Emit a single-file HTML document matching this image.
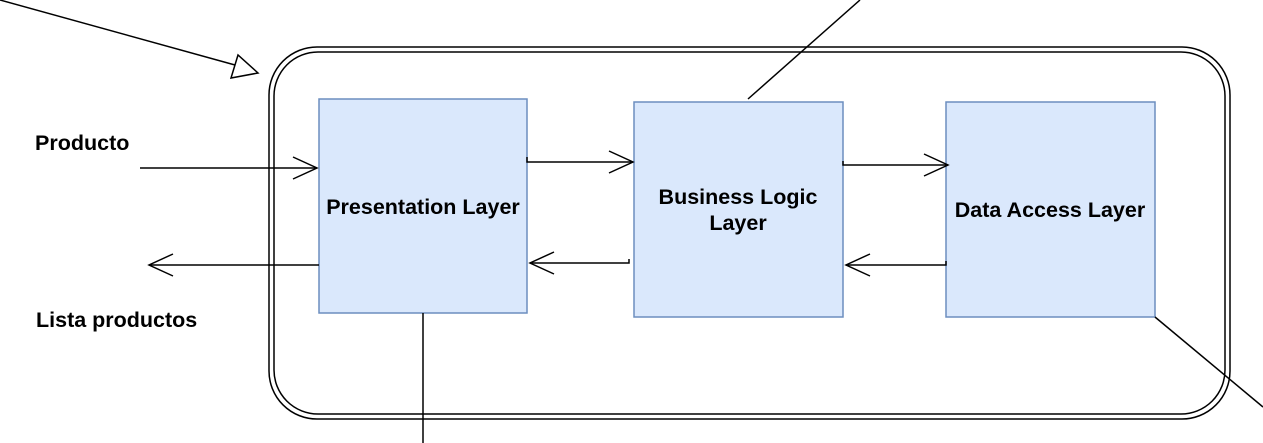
<!DOCTYPE html>
<html><head><meta charset="utf-8"><style>
html,body{margin:0;padding:0;background:#fff;}
svg{display:block;}
text{font-family:"Liberation Sans",Arial,sans-serif;font-weight:bold;font-size:21.5px;fill:#000;}
</style></head><body>
<svg width="1263" height="443" viewBox="0 0 1263 443" xmlns="http://www.w3.org/2000/svg">
<g fill="none" stroke="#000" stroke-width="1.5">
<rect x="269" y="47" width="961" height="372" rx="48" ry="48"/>
<rect x="274" y="52" width="951" height="362" rx="44" ry="44"/>
</g>
<g fill="#dae8fc" stroke="#6c8ebf" stroke-width="1.5">
<rect x="319" y="99" width="208" height="214"/>
<rect x="634" y="102" width="209" height="215"/>
<rect x="946" y="102" width="209" height="215"/>
</g>
<text x="423" y="214" text-anchor="middle">Presentation Layer</text>
<text x="738" y="204" text-anchor="middle">Business Logic</text>
<text x="738" y="230" text-anchor="middle">Layer</text>
<text x="1050" y="217" text-anchor="middle">Data Access Layer</text>
<text x="35" y="150">Producto</text>
<text x="36" y="327">Lista productos</text>
<g fill="none" stroke="#000" stroke-width="1.5">
<line x1="0" y1="0" x2="235" y2="65"/>
<polygon points="258,73 231,78 238,55" fill="#fff"/>
<line x1="748" y1="99" x2="860" y2="0"/>
<line x1="1155" y1="317" x2="1263" y2="407"/>
<line x1="423" y1="313" x2="423" y2="443"/>
<line x1="140" y1="168" x2="317" y2="168"/>
<polyline points="293,157 317,168 293,179"/>
<line x1="319" y1="265" x2="149" y2="265"/>
<polyline points="173,254 149,265 173,276"/>
<polyline points="527,157 527,162 633,162"/>
<polyline points="609,151 633,162 609,173"/>
<polyline points="629,259 629,263 530,263"/>
<polyline points="554,252 530,263 554,274"/>
<polyline points="843,161 843,165 948,165"/>
<polyline points="924,154 948,165 924,176"/>
<polyline points="946,261 946,265 846,265"/>
<polyline points="870,254 846,265 870,276"/>
</g>
</svg>
</body></html>
